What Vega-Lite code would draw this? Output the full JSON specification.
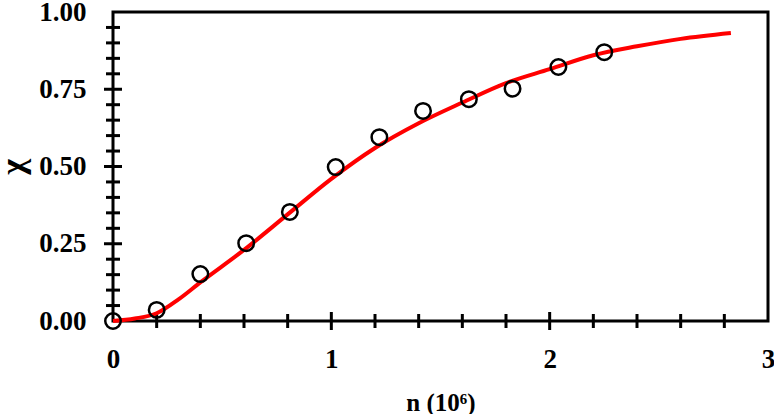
{
  "$schema": "https://vega.github.io/schema/vega-lite/v6.json",
  "width": 655,
  "height": 309,
  "autosize": "none",
  "padding": {"left": 113, "top": 12, "right": 6, "bottom": 93},
  "background": "white",
  "config": {
    "view": {"stroke": "black", "strokeWidth": 3},
    "axis": {
      "domain": false,
      "ticks": false,
      "grid": false,
      "labelFont": "Liberation Serif",
      "labelFontWeight": "bold",
      "labelFontSize": 27,
      "labelColor": "black",
      "titleFont": "Liberation Serif",
      "titleFontWeight": "bold",
      "titleColor": "black"
    }
  },
  "datasets": {
    "fit": [
      {"n": 0, "chi": 0},
      {"n": 0.1, "chi": 0.008},
      {"n": 0.2, "chi": 0.025},
      {"n": 0.3, "chi": 0.07},
      {"n": 0.4, "chi": 0.125},
      {"n": 0.6, "chi": 0.23},
      {"n": 0.8, "chi": 0.345},
      {"n": 1.0, "chi": 0.46},
      {"n": 1.2, "chi": 0.56},
      {"n": 1.4, "chi": 0.64},
      {"n": 1.6, "chi": 0.707},
      {"n": 1.8, "chi": 0.77},
      {"n": 2.0, "chi": 0.815},
      {"n": 2.2, "chi": 0.86},
      {"n": 2.4, "chi": 0.889},
      {"n": 2.6, "chi": 0.913},
      {"n": 2.83, "chi": 0.932}
    ],
    "obs": [
      {"n": 0, "chi": 0},
      {"n": 0.2, "chi": 0.036},
      {"n": 0.4, "chi": 0.152},
      {"n": 0.61, "chi": 0.252},
      {"n": 0.81, "chi": 0.353},
      {"n": 1.02, "chi": 0.498},
      {"n": 1.22, "chi": 0.595},
      {"n": 1.42, "chi": 0.68},
      {"n": 1.63, "chi": 0.718},
      {"n": 1.83, "chi": 0.752},
      {"n": 2.04, "chi": 0.822},
      {"n": 2.25, "chi": 0.87}
    ],
    "xMajor": [{"n": 1, "chi": 0}, {"n": 2, "chi": 0}],
    "xMinor": [{"n": 0.2, "chi": 0}, {"n": 0.4, "chi": 0}, {"n": 0.6, "chi": 0}, {"n": 0.8, "chi": 0}, {"n": 1.2, "chi": 0}, {"n": 1.4, "chi": 0}, {"n": 1.6, "chi": 0}, {"n": 1.8, "chi": 0}, {"n": 2.2, "chi": 0}, {"n": 2.4, "chi": 0}, {"n": 2.6, "chi": 0}, {"n": 2.8, "chi": 0}],
    "yMajor": [{"n": 0, "chi": 0.25}, {"n": 0, "chi": 0.5}, {"n": 0, "chi": 0.75}],
    "yMinor": [{"n": 0, "chi": 0.05}, {"n": 0, "chi": 0.1}, {"n": 0, "chi": 0.15}, {"n": 0, "chi": 0.2}, {"n": 0, "chi": 0.3}, {"n": 0, "chi": 0.35}, {"n": 0, "chi": 0.4}, {"n": 0, "chi": 0.45}, {"n": 0, "chi": 0.55}, {"n": 0, "chi": 0.6}, {"n": 0, "chi": 0.65}, {"n": 0, "chi": 0.7}, {"n": 0, "chi": 0.8}, {"n": 0, "chi": 0.85}, {"n": 0, "chi": 0.9}, {"n": 0, "chi": 0.95}]
  },
  "encoding": {
    "x": {
      "field": "n",
      "type": "quantitative",
      "scale": {"domain": [0, 3], "nice": false, "zero": false},
      "axis": {
        "title": "n (10⁶)",
        "titleFontSize": 25,
        "titlePadding": 18,
        "values": [0, 1, 2, 3],
        "format": "d",
        "labelPadding": 25,
        "labelFlush": false,
        "labelOverlap": false
      }
    },
    "y": {
      "field": "chi",
      "type": "quantitative",
      "scale": {"domain": [0, 1], "nice": false},
      "axis": {
        "title": "χ",
        "titleFontSize": 34,
        "titlePadding": 8,
        "values": [0, 0.25, 0.5, 0.75, 1],
        "format": ".2f",
        "labelPadding": 27,
        "labelFlush": false,
        "labelOverlap": false
      }
    }
  },
  "layer": [
    {
      "data": {"name": "xMajor"},
      "mark": {"type": "tick", "orient": "vertical", "color": "#000000", "size": 18, "thickness": 3, "opacity": 1}
    },
    {
      "data": {"name": "xMinor"},
      "mark": {"type": "tick", "orient": "vertical", "color": "#000000", "size": 14, "thickness": 3, "opacity": 1}
    },
    {
      "data": {"name": "yMajor"},
      "mark": {"type": "tick", "orient": "horizontal", "color": "#000000", "size": 18, "thickness": 3, "opacity": 1}
    },
    {
      "data": {"name": "yMinor"},
      "mark": {"type": "tick", "orient": "horizontal", "color": "#000000", "size": 14, "thickness": 3, "opacity": 1}
    },
    {
      "data": {"name": "fit"},
      "mark": {"type": "line", "color": "#ff0000", "strokeWidth": 4, "interpolate": "monotone"}
    },
    {
      "data": {"name": "obs"},
      "mark": {"type": "point", "shape": "circle", "filled": false, "color": "black", "strokeWidth": 2.5, "size": 240, "opacity": 1}
    }
  ]
}
